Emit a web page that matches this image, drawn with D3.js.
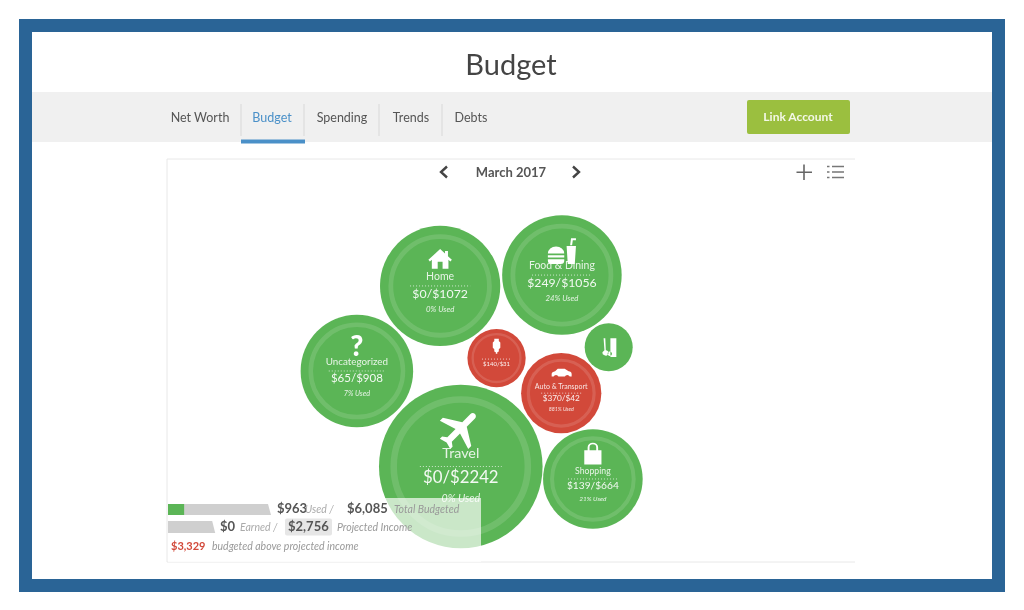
<!DOCTYPE html>
<html>
<head>
<meta charset="utf-8">
<title>Budget</title>
<script src="https://cdn.jsdelivr.net/npm/d3@7"></script>
<style>
  html, body { margin: 0; padding: 0; background: #fff; }
  svg { display: block; font-family: Lato, "Open Sans", sans-serif; filter: blur(0.45px); }
</style>
</head>
<body>
<svg id="chart" width="1024" height="610"></svg>
<script>
// values
const categories = ["Home", "Food & Dining", "Uncategorized", "", "", "Auto & Transport", "Travel", "Shopping"];
const used = [0, 249, 65, 140, 0, 370, 0, 139];
const budgeted = [1072, 1056, 908, 31, 70, 42, 2242, 664];
const icons = ["home", "food", "question", "drink", "tools", "car", "plane", "bag"];
const earned = 0;
const projected = 2756;
const tabs = ["Net Worth", "Budget", "Spending", "Trends", "Debts"];

// where each bubble sits inside the panel, as a share of panel width / height
const spotX = [0.397, 0.574, 0.276, 0.479, 0.642, 0.573, 0.427, 0.619];
const spotY = [0.315, 0.288, 0.526, 0.494, 0.467, 0.581, 0.763, 0.794];

const GREEN = "#5bb556", RED = "#d2493a", BLUE = "#2a6496";
const panel = { left: 167, top: 159, right: 855, bottom: 562 };

const svg = d3.select("#chart");

// frame
svg.append("rect").attr("x", 25.5).attr("y", 25.5).attr("width", 973).attr("height", 560)
  .attr("fill", "#fff").attr("stroke", BLUE).attr("stroke-width", 13);

svg.append("text").attr("x", 511).attr("y", 75).attr("text-anchor", "middle")
  .attr("font-size", 29).attr("fill", "#444").text("Budget");

// nav band
svg.append("rect").attr("x", 32).attr("y", 92).attr("width", 960).attr("height", 50).attr("fill", "#f0f0f0");

const tabX = [200, 272, 342, 411, 471];
svg.selectAll(".tab").data(tabs).join("text").attr("class", "tab")
  .attr("x", (d, i) => tabX[i]).attr("y", 122).attr("text-anchor", "middle")
  .attr("font-size", 12.5).attr("fill", (d) => d === "Budget" ? "#4a90c8" : "#555").text((d) => d);

svg.selectAll(".sep").data([241, 304, 379, 442]).join("line").attr("class", "sep")
  .attr("x1", (d) => d).attr("x2", (d) => d).attr("y1", 104).attr("y2", 136)
  .attr("stroke", "#d8d8d8");

svg.append("rect").attr("x", 241).attr("y", 139.5).attr("width", 64).attr("height", 4).attr("fill", "#4a90c8");

svg.append("rect").attr("x", 747).attr("y", 100).attr("width", 103).attr("height", 34).attr("rx", 2).attr("fill", "#9bbf3f");
svg.append("text").attr("x", 798).attr("y", 121).attr("text-anchor", "middle").attr("font-size", 12)
  .attr("font-weight", 700).attr("fill", "#f4f8e8").text("Link Account");

// panel
svg.append("path").attr("d", `M${panel.right},${panel.top}H${panel.left}V${panel.bottom}H${panel.right}`)
  .attr("fill", "none").attr("stroke", "#e8e8e8");

svg.append("text").attr("x", 511).attr("y", 176.5).attr("text-anchor", "middle").attr("font-size", 13)
  .attr("font-weight", 700).attr("fill", "#555").text("March 2017");

const chevron = (x, dir) => svg.append("path")
  .attr("d", `M${x - 3 * dir},166.5L${x + 3 * dir},172L${x - 3 * dir},177.5`)
  .attr("fill", "none").attr("stroke", "#444").attr("stroke-width", 2.4);
chevron(444, -1);
chevron(576, 1);

svg.append("path").attr("d", "M804,164.5V180M796.5,172.3H812").attr("stroke", "#666").attr("stroke-width", 1.6);
svg.selectAll(".listrow").data([166.5, 172, 177.5]).join("path").attr("class", "listrow")
  .attr("d", (d) => `M827,${d}h2.5M832,${d}h12`).attr("stroke", "#777").attr("stroke-width", 1.7);

// bubbles
const x = d3.scaleLinear().domain([0, 1]).range([panel.left, panel.right]);
const y = d3.scaleLinear().domain([0, 1]).range([panel.top, panel.bottom]);
const size = categories.map((d, i) => Math.max(used[i], budgeted[i]));
const r = d3.scaleSqrt().domain([0, d3.max(size)]).range([11.6, 81.8]);

// icon paths in a 24 box, with scale and vertical offset relative to the bubble radius
const iconShapes = {
  home: { d: "M12 2L0 13l1.5 1.6L3.5 13v9h6v-7h5v7h6v-9l2 1.6L24 13l-4-3.7V4h-3v2.6z", s: 0.39, dy: -0.45 },
  food: { d: "M0 14a7 6 0 0 1 14 0zM0 15.5h14v2H0zM0 19h14v1a3 3 0 0 1-3 3H3a3 3 0 0 1-3-3zM16 7.5h8l-1 15.5h-6zM19 7l.8-6H24v1.6h-2.7L20.7 7z", s: 0.47, dy: -0.4 },
  drink: { d: "M9 1h6v3l2 2v7l-2 2v3l-2 1v2h-2v-2l-2-1v-3l-2-2V6l2-2z", s: 0.62, dy: -0.38 },
  tools: { d: "M14 1h7v22h-7zM6 1h2l.6 14a3.2 3.2 0 1 1-1.6 6 3.2 3.2 0 0 1-2.4-3.6L7 15zM11.5 21a2.6 2.6 0 1 0-.1-.1zM8.6 15l1.3 2.5-1.2.8z", s: 0.85, dy: 0.02 },
  car: { d: "M1 16v-3c0-1.5 1.5-2.5 4-3l3-3h8l4.5 3c2 .3 3.5 1.2 3.5 3v3h-2.2a3 3 0 0 0-5.6 0H8.8a3 3 0 0 0-5.6 0z", s: 0.52, dy: -0.5 },
  plane: { d: "M21 16v-2l-8-5V3.5c0-.83-.67-1.5-1.5-1.5S10 2.67 10 3.5V9l-8 5v2l8-2.5V19l-2 1.5V22l3.5-1 3.5 1v-1.5L13 19v-5.5l8 2.5z", s: 0.62, dy: -0.45, rotate: 45 },
  bag: { d: "M3 8h18v15H3zM6.5 8V5a5.5 5 0 0 1 11 0v3h-2V5a3.5 3.2 0 0 0-7 0v3z", s: 0.46, dy: -0.5 }
};

const bubbles = categories.map((name, i) => ({
  name, used: used[i], budget: budgeted[i], icon: icons[i],
  cx: x(spotX[i]), cy: y(spotY[i]), r: r(size[i]), over: used[i] > budgeted[i]
}));

const node = svg.selectAll(".bubble").data(bubbles).join("g").attr("class", "bubble")
  .attr("transform", (d) => `translate(${d.cx},${d.cy})`);

node.append("circle").attr("r", (d) => d.r).attr("fill", (d) => d.over ? RED : GREEN);

// lighter inner ring, only on bubbles big enough to carry text
node.filter((d) => d.r > 25).append("circle").attr("r", (d) => d.r * 0.82)
  .attr("fill", "none").attr("stroke", "#fff").attr("stroke-opacity", 0.13)
  .attr("stroke-width", (d) => d.r * 0.08);

node.each(function (d) {
  const g = d3.select(this);
  if (d.icon === "question") {
    g.append("text").attr("y", -d.r * 0.27).attr("text-anchor", "middle").attr("font-size", d.r * 0.5)
      .attr("font-weight", 900).attr("fill", "#fff").text("?");
  } else {
    const ic = iconShapes[d.icon];
    const k = (d.r * ic.s) / 24;
    g.append("path").attr("d", ic.d).attr("fill", "#fff").attr("fill-rule", "nonzero")
      .attr("transform", `translate(0,${d.r * ic.dy}) rotate(${ic.rotate || 0}) scale(${k}) translate(-12,-12)`);
  }
  if (d.r < 25) return;

  const small = d.r < 35;
  g.append("text").attr("y", d.r * (small ? 0.28 : 0.2)).attr("text-anchor", "middle")
    .attr("font-size", d.r * 0.205).attr("fill", "#fff").attr("fill-opacity", 0.92)
    .text(`$${d.used}/$${d.budget}`);
  g.append("line").attr("x1", -d.r * 0.5).attr("x2", d.r * 0.5)
    .attr("y1", small ? 1 : 0).attr("y2", small ? 1 : 0)
    .attr("stroke", "#fff").attr("stroke-opacity", 0.7).attr("stroke-dasharray", "1 2");
  if (small) return;

  g.append("text").attr("y", -d.r * 0.1).attr("text-anchor", "middle")
    .attr("font-size", d.r * 0.175).attr("fill", "#fff").attr("fill-opacity", 0.85).text(d.name);
  g.append("text").attr("y", d.r * 0.44).attr("text-anchor", "middle")
    .attr("font-size", d.r * 0.13).attr("font-style", "italic").attr("fill", "#fff").attr("fill-opacity", 0.85)
    .text(`${Math.round((d.used / d.budget) * 100)}% Used`);
});

// summary block sits on a translucent white sheet over the bubbles
svg.append("rect").attr("x", 168).attr("y", 498).attr("width", 313).attr("height", 64)
  .attr("fill", "#fff").attr("fill-opacity", 0.68);

const totalUsed = d3.sum(used);
const totalBudget = d3.sum(budgeted);
const barX = d3.scaleLinear().domain([0, totalBudget]).range([0, 102]);
const money = d3.format("$,");

const bar = (top, h, w, fill) => svg.append("path")
  .attr("d", `M168,${top}h${w - 2}l3,${h}h-${w + 1}z`).attr("fill", fill);
bar(504, 11, barX(totalBudget), "#cfcfcf");
svg.append("rect").attr("x", 168).attr("y", 504).attr("width", barX(totalUsed)).attr("height", 11).attr("fill", GREEN);
bar(521, 12, barX(projected), "#cfcfcf");

svg.append("rect").attr("x", 285).attr("y", 518.5).attr("width", 47).attr("height", 17).attr("rx", 2).attr("fill", "#e6e6e6");

// one row of the summary: [x, y, text, bold, colour]
const rows = [
  [277, 513, money(totalUsed), true, "#555"],
  [305, 513, "Used /", false, "#aaa"],
  [347, 513, money(totalBudget), true, "#555"],
  [394, 513, "Total Budgeted", false, "#999"],
  [220, 531, money(earned), true, "#555"],
  [240, 531, "Earned /", false, "#aaa"],
  [288, 531, money(projected), true, "#555"],
  [337, 531, "Projected Income", false, "#999"],
  [171, 550, money(totalBudget - projected), true, "#d2493a"],
  [212, 550, "budgeted above projected income", false, "#999"]
];
svg.selectAll(".row").data(rows).join("text").attr("class", "row")
  .attr("x", (d) => d[0]).attr("y", (d) => d[1])
  .attr("font-size", (d) => d[3] ? (d[4] === "#d2493a" ? 11 : 13) : 10.5)
  .attr("font-weight", (d) => d[3] ? 700 : 400)
  .attr("font-style", (d) => d[3] ? "normal" : "italic")
  .attr("fill", (d) => d[4]).text((d) => d[2]);
</script>
</body>
</html>
